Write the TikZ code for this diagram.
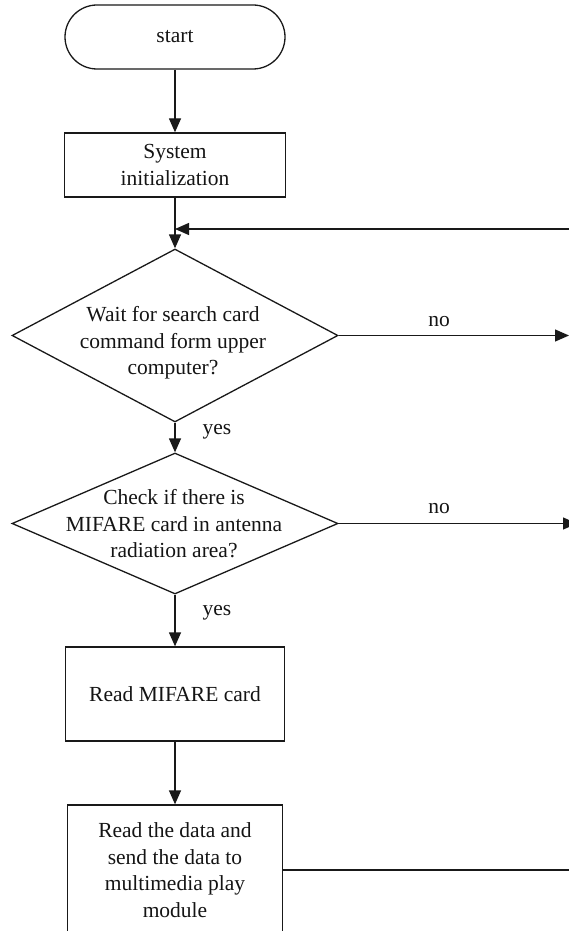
\documentclass[tikz,border=0pt]{standalone}
\usepackage{fontspec}
\setmainfont{Liberation Serif}
\usetikzlibrary{arrows.meta,shapes.geometric}
\begin{document}
\begin{tikzpicture}[x=1pt,y=-1pt,
  every node/.style={font=\fontsize{21.5}{26.5}\selectfont, text=black!92},
  flow/.style={line width=1.3pt, draw=black!90},
  arr/.style={flow, -{Triangle[length=14pt,width=12pt]}},
  procbox/.style={draw=black!90, line width=1.3pt, rectangle, align=center, inner sep=0pt},
  termbox/.style={procbox, rounded corners=32pt},
  decision/.style={draw=black!90, line width=1.3pt, diamond, inner sep=0pt},
  qtext/.style={align=center, inner sep=0pt},
  tag/.style={inner sep=0pt}
]
\clip (0,0) rectangle (569,931);

% process steps
\node[termbox, minimum width=220pt, minimum height=64pt] (start) at (175,37) {start};
\node[procbox, minimum width=221pt, minimum height=64pt] (init) at (175,165) {System\\initialization};
\node[decision, minimum width=326pt, minimum height=173pt] (wait) at (175,335.5) {};
\node[qtext] (waittext) at (173,343) {Wait for search card\\command form upper\\computer?};
\node[decision, minimum width=326pt, minimum height=141pt] (check) at (175,523.5) {};
\node[qtext] (checktext) at (174,524) {Check if there is\\MIFARE card in antenna\\radiation area?};
\node[procbox, minimum width=219pt, minimum height=94pt] (read) at (175,694) {Read MIFARE card};
\node[procbox, minimum width=215pt, minimum height=130pt] (send) at (175,870) {Read the data and\\send the data to\\multimedia play\\module};

% junction and off-page ends
\coordinate (join) at (175,229);
\coordinate (loopin) at (575,229);
\coordinate (waitno) at (569,335.5);
\coordinate (checkno) at (577,523.5);
\coordinate (sendout) at (575,870);

% connectors
\draw[arr] (start) -- (init);
\draw[arr] (init) -- (wait.north);
\draw[arr] (loopin) -- (join);
\draw[arr] (wait.east) -- (waitno);
\draw[arr] (wait.south) -- (check.north);
\draw[arr] (check.east) -- (checkno);
\draw[arr] (check.south) -- (read);
\draw[arr] (read) -- (send);
\draw[flow] (send.east) -- (sendout);

% branch labels
\node[tag] (no1) at (439,322) {no};
\node[tag] (yes1) at (217,432) {yes};
\node[tag] (no2) at (439,509) {no};
\node[tag] (yes2) at (217,613) {yes};
\end{tikzpicture}
\end{document}
